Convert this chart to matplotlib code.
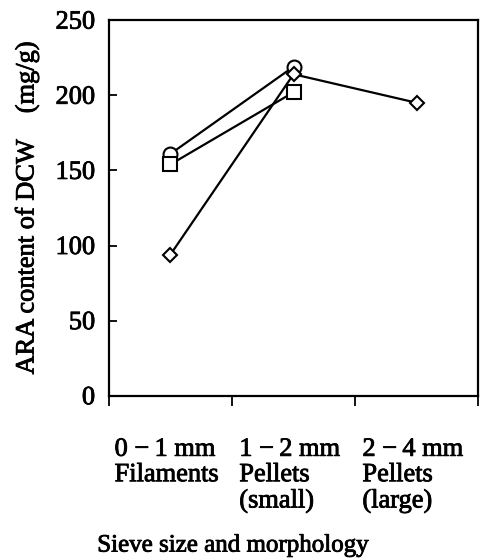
import numpy as np
import matplotlib
matplotlib.use("Agg")
import matplotlib.pyplot as plt
import matplotlib.patheffects as pe

plt.rcParams['font.family'] = ['Liberation Serif', 'DejaVu Serif']

categories = ["0 \u2212\u20091 mm\nFilaments", "1 \u2212\u20092 mm\nPellets\n(small)", "2 \u2212\u20094 mm\nPellets\n(large)"]
circle_vals = [161, 219, np.nan]
square_vals = [154, 202, np.nan]
diamond_vals = [94, 214, 195]

xpos = np.arange(len(categories)) + 0.5
thick = [pe.withStroke(linewidth=0.6, foreground='black')]

fig = plt.figure(figsize=(4.82, 5.59), dpi=100)
ax = fig.add_axes([0.226, 0.292, 0.766, 0.672])

ax.plot(xpos, circle_vals, color='black', lw=1.6, marker='o', ms=10,
        mfc='white', mec='black', mew=1.5)
ax.plot(xpos, square_vals, color='black', lw=1.6, marker='s', ms=10,
        mfc='white', mec='black', mew=1.5)
ax.plot(xpos, diamond_vals, color='black', lw=1.6, marker='D', ms=7,
        mfc='white', mec='black', mew=1.5)

ax.set_xlim(0, 3)
ax.set_ylim(0, 250)
ax.set_yticks([0, 50, 100, 150, 200, 250])
ax.tick_params(axis='y', direction='in', length=6, width=1.3, labelsize=19, pad=10)
ax.set_xticks([0, 1, 2, 3])
ax.set_xticklabels([])
ax.tick_params(axis='x', which='major', direction='out', length=7, width=1.3)
ax.set_xticks(xpos - 0.03, minor=True)
ax.set_xticklabels(categories, minor=True, fontsize=19, linespacing=1.2,
                   va='top', multialignment='left')
ax.tick_params(axis='x', which='minor', length=0, pad=31)
for s in ax.spines.values():
    s.set_linewidth(1.6)

ax.set_ylabel("ARA content of DCW    (mg/g)", fontsize=19, labelpad=12)
fig.text(0.484, 0.024, "Sieve size and morphology", fontsize=18, ha='center', va='center',
         path_effects=thick)

for t in ax.get_yticklabels() + ax.get_xticklabels(minor=True) + [ax.yaxis.label]:
    t.set_path_effects(thick)

fig.savefig("out.png", dpi=100)
